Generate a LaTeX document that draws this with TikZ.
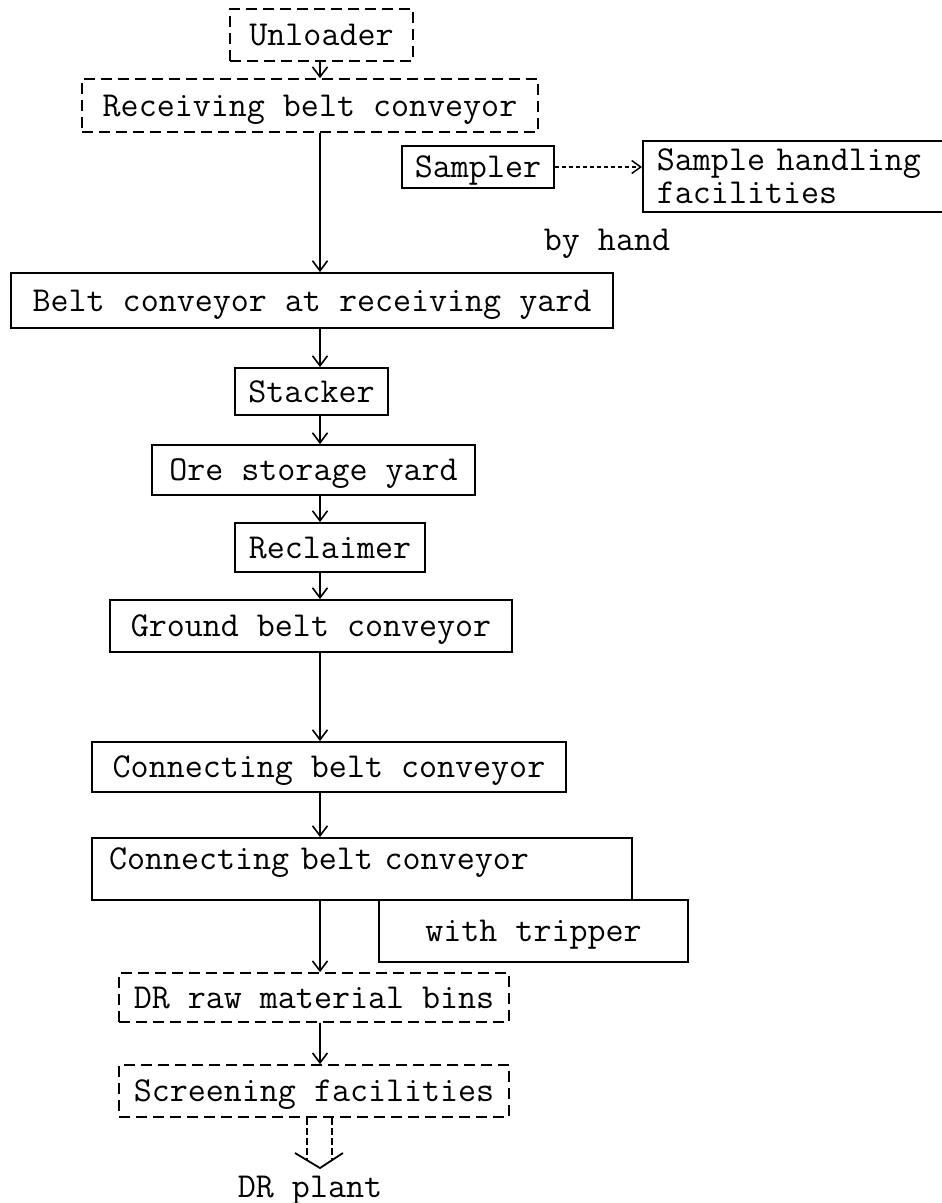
\documentclass[tikz,border=0pt]{standalone}
\usepackage{fontspec}
\usetikzlibrary{arrows.meta}
\begin{document}
\begin{tikzpicture}[x=1pt,y=-1pt,
  lbl/.style={font={\ttfamily\fontsize{35pt}{31pt}\selectfont}, inner sep=0pt, text height=21pt, text depth=0pt},
  box/.style={lbl, draw, line width=1.8pt},
  dbox/.style={lbl, draw, line width=1.6pt, dash pattern=on 11pt off 6pt},
  arr/.style={line width=1.8pt, -{Straight Barb[length=10pt,width=15pt,line width=1.6pt]}},
  darr/.style={line width=1.5pt, dash pattern=on 4pt off 3pt, -{Straight Barb[length=9pt,width=13pt,line width=1.5pt]}},
  dline/.style={line width=2pt, dash pattern=on 7pt off 3pt},
]
\useasboundingbox (0,0) rectangle (942,1203);
\fill[white] (0,0) rectangle (942,1203);
\coordinate (col) at (320,0);

\node[dbox, minimum width=183pt, minimum height=52pt] (unl) at (321.5,35) {Unloader};
\node[dbox, minimum width=456pt, minimum height=53pt] (rec) at (310,105.5) {Receiving belt conveyor};
\node[box, minimum width=152pt, minimum height=42pt] (smp) at (478,167) {Sampler};
\node[draw, line width=1.8pt, font={\ttfamily\fontsize{35pt}{32.5pt}\selectfont}, anchor=north west,
      inner xsep=14pt, inner ysep=0pt, text width=277pt, align=left, minimum height=71pt] (shf) at (642,140)
      {Sample handling\\facilities};
\node[lbl] (hand) at (607,240) {by hand};
\node[box, minimum width=602pt, minimum height=55pt] (belt) at (312,300.5) {Belt conveyor at receiving yard};
\node[box, minimum width=153pt, minimum height=47pt] (stk) at (311.5,391.5) {Stacker};
\node[box, minimum width=323pt, minimum height=50pt] (ore) at (313.5,470) {Ore storage yard};
\node[box, minimum width=190pt, minimum height=49pt] (rcl) at (330,547.5) {Reclaimer};
\node[box, minimum width=402pt, minimum height=52pt] (gnd) at (311,626) {Ground belt conveyor};
\node[box, minimum width=474pt, minimum height=50pt] (cb1) at (329,767) {Connecting belt conveyor};
\node[box, minimum width=540pt, minimum height=62pt, inner xsep=17pt, text width=506pt, align=left] (cb2) at (362,869)
      {\raisebox{10pt}{Connecting belt conveyor}};
\node[box, minimum width=309pt, minimum height=62pt] (trp) at (533.5,931) {with tripper};
\node[dbox, minimum width=390pt, minimum height=49pt] (bins) at (314,997.5) {DR raw material bins};
\node[dbox, minimum width=390pt, minimum height=52pt] (scr) at (314,1091) {Screening facilities};
\node[lbl] (plant) at (310,1187) {DR plant};

\draw[arr] (unl.south -| col) -- (rec.north -| col);
\draw[arr] (rec.south -| col) -- (belt.north -| col);
\draw[darr] (smp.east) -- (smp.east -| shf.west);
\draw[arr] (belt.south -| col) -- (stk.north -| col);
\draw[arr] (stk.south -| col) -- (ore.north -| col);
\draw[arr] (ore.south -| col) -- (rcl.north -| col);
\draw[arr] (rcl.south -| col) -- (gnd.north -| col);
\draw[arr] (gnd.south -| col) -- (cb1.north -| col);
\draw[arr] (cb1.south -| col) -- (cb2.north -| col);
\draw[arr] (cb2.south -| col) -- (bins.north -| col);
\draw[arr] (bins.south -| col) -- (scr.north -| col);

\coordinate (vtip) at (320,1168);
\coordinate (vl) at (295,1153);
\coordinate (vr) at (343,1153);
\draw[dline] ([xshift=-13pt]scr.south -| col) -- ++(0,43);
\draw[dline] ([xshift=12pt]scr.south -| col) -- ++(0,43);
\draw[line width=1.8pt, line join=round] (vl) -- (vtip) -- (vr);
\end{tikzpicture}
\end{document}
